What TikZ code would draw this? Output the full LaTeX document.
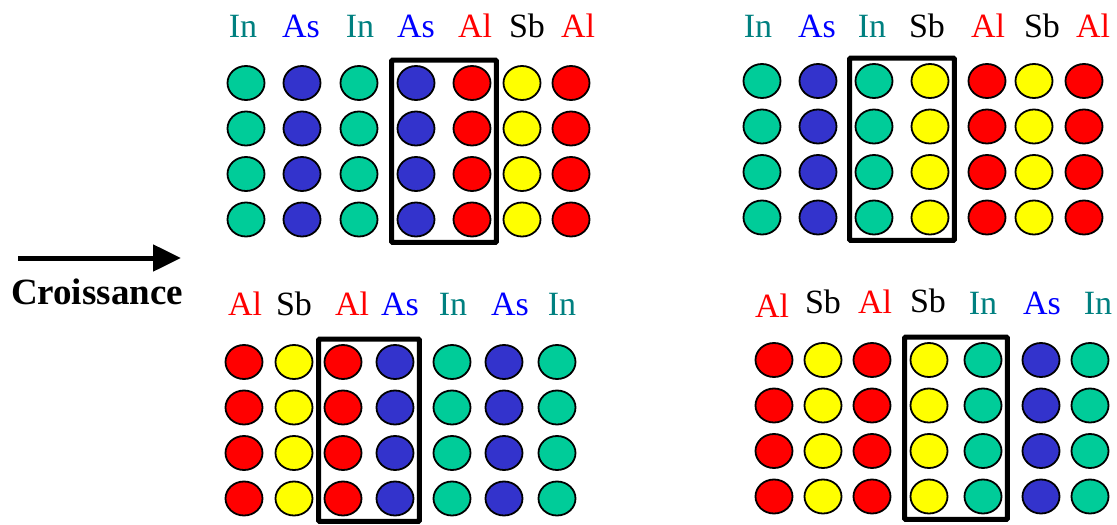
\documentclass[tikz,border=0pt]{standalone}
\usepackage{fontspec}
\setmainfont{Liberation Serif}
\usetikzlibrary{shapes.geometric,fit,arrows.meta}
\definecolor{ingreen}{RGB}{0,204,153}
\definecolor{asblue}{RGB}{51,51,204}
\definecolor{alred}{RGB}{255,0,0}
\definecolor{sbyellow}{RGB}{255,255,0}
\definecolor{inteal}{RGB}{0,128,128}
\definecolor{astext}{RGB}{0,0,255}
\begin{document}
\begin{tikzpicture}
[x=1pt,y=-1pt,
  atomdecorate/.style={shape=ellipse,minimum width=37pt,minimum height=34pt,
    inner sep=0pt,draw,line width=1.8pt},
  boxdecorate/.style={draw,line width=5pt,inner sep=5pt,rounded corners=1pt},
  labeldecorate/.style={anchor=base,inner sep=0pt,font=\fontsize{34}{40}\selectfont},
  fillIn/.style={fill=ingreen}, fillAs/.style={fill=asblue},
  fillAl/.style={fill=alred}, fillSb/.style={fill=sbyellow},
  textIn/.style={text=inteal}, textAs/.style={text=astext},
  textAl/.style={text=alred}, textSb/.style={text=black},
  growarrow/.style={line width=5pt,-{Triangle[length=28pt,width=26pt]}}]
\useasboundingbox (0,0) rectangle (1117,525);
%% atoms, four rows per column
\foreach \panel/\col/\atom/\x/\ytop in {a/1/In/246/83, a/2/As/302/83,
  a/3/In/359/83, a/4/As/416/83, a/5/Al/472/83, a/6/Sb/522/83, a/7/Al/571/83,
  b/1/In/762/81, b/2/As/818/81, b/3/In/874/81, b/4/Sb/930/81,
  b/5/Al/987/81, b/6/Sb/1034/81, b/7/Al/1084/81,
  c/1/Al/244/362, c/2/Sb/294/362, c/3/Al/343/362, c/4/As/395/362,
  c/5/In/452/362, c/6/As/504/362, c/7/In/557/362,
  d/1/Al/774/360, d/2/Sb/823/360, d/3/Al/872/360, d/4/Sb/929/360,
  d/5/In/983/360, d/6/As/1041/360, d/7/In/1090/360}
{
  \foreach \row in {0,...,3}
  {
    \node (\panel-\col-\row) at (\x,\ytop+45.5*\row) [atomdecorate,fill\atom] {};
  }
}
%% element labels
\foreach \panel/\col/\atom/\x/\y in {a/1/In/243/37, a/2/As/301/37,
  a/3/In/360/37, a/4/As/416/37, a/5/Al/475/37, a/6/Sb/527/37, a/7/Al/578/37,
  b/1/In/758/37, b/2/As/817/37, b/3/In/872/37, b/4/Sb/927/37,
  b/5/Al/988/37, b/6/Sb/1042/37, b/7/Al/1093/37,
  c/1/Al/245/315, c/2/Sb/294/315, c/3/Al/352/315, c/4/As/400/315,
  c/5/In/453/315, c/6/As/510/315, c/7/In/562/315,
  d/1/Al/772/317, d/2/Sb/823/313, d/3/Al/875/313, d/4/Sb/928/312,
  d/5/In/983/314, d/6/As/1042/314, d/7/In/1098/314}
{
  \node (lab-\panel-\col) at (\x,\y) [labeldecorate,text\atom] {\atom};
}
%% interface boxes
\foreach \panel/\first/\second in {a/4/5, b/3/4, c/3/4, d/4/5}
{
  \node (box-\panel) [boxdecorate,fit=(\panel-\first-0)(\panel-\second-3)] {};
}
%% growth direction
\coordinate (grow-start) at (18,258);
\coordinate (grow-end) at (181,258);
\draw[growarrow] (grow-start) -- (grow-end);
\node (croissance) at (97,304) [anchor=base,inner sep=0pt,
  font=\bfseries\fontsize{37}{44}\selectfont] {Croissance};
\end{tikzpicture}
\end{document}
